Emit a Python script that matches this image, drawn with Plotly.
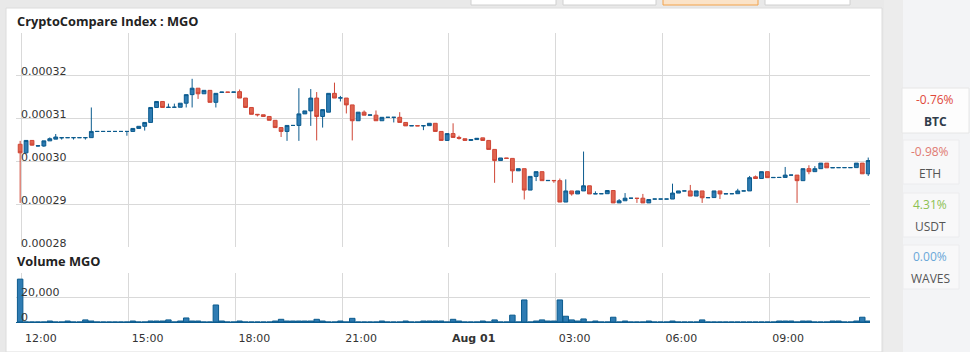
import pandas as pd
import numpy as np
import plotly.graph_objects as go

# ---------------- data (prices in units of 1e-5) ----------------
PRICE_UNIT = 1e-5
start_time = "2018-07-31 11:57"
n_candles = 144

open_ = [
    30.40, 30.20, 30.49, 30.36, 30.36, 30.48, 30.52, 30.55, 30.555, 30.555, 30.555, 30.555,
    30.555, 30.70, 30.70, 30.70, 30.70, 30.70, 30.70, 30.70, 30.77, 30.82, 30.91, 31.26,
    31.40, 31.26, 31.265, 31.265, 31.36, 31.56, 31.71, 31.58, 31.66, 31.38, 31.61, 31.62,
    31.615, 31.63, 31.48, 31.26, 31.10, 31.09, 31.05, 30.96, 30.79, 30.70, 30.84, 30.84,
    31.11, 31.18, 31.48, 31.05, 31.15, 31.59, 31.48, 31.48, 31.32, 30.95, 31.15, 31.08,
    31.08, 30.95, 31.03, 31.03, 31.03, 30.91, 30.83, 30.835, 30.83, 30.835, 30.89, 30.70,
    30.49, 30.65, 30.56, 30.53, 30.49, 30.51, 30.55, 30.49, 30.28, 30.02, 30.08, 30.07,
    29.78, 29.83, 29.33, 29.65, 29.76, 29.55, 29.555, 29.55, 29.05, 29.31, 29.24, 29.31,
    29.43, 29.24, 29.245, 29.245, 29.32, 29.03, 29.08, 29.14, 29.14, 29.14, 29.03, 29.12,
    29.12, 29.12, 29.12, 29.26, 29.31, 29.31, 29.19, 29.31, 29.15, 29.155, 29.31, 29.24,
    29.245, 29.245, 29.31, 29.31, 29.64, 29.60, 29.76, 29.62, 29.625, 29.625, 29.68, 29.68,
    29.55, 29.83, 29.76, 29.83, 29.96, 29.85, 29.855, 29.855, 29.855, 29.855, 29.96, 29.71,
]
close = [
    30.20, 30.49, 30.38, 30.365, 30.48, 30.53, 30.57, 30.555, 30.555, 30.555, 30.555, 30.555,
    30.70, 30.70, 30.70, 30.70, 30.70, 30.70, 30.70, 30.77, 30.82, 30.91, 31.26, 31.40,
    31.26, 31.265, 31.265, 31.36, 31.56, 31.71, 31.58, 31.66, 31.38, 31.59, 31.62, 31.615,
    31.62, 31.48, 31.26, 31.10, 31.09, 31.05, 30.96, 30.79, 30.70, 30.84, 30.84, 31.11,
    31.18, 31.48, 31.05, 31.21, 31.59, 31.48, 31.485, 31.32, 30.95, 31.15, 31.08, 31.085,
    30.95, 31.03, 31.03, 31.03, 30.91, 30.83, 30.835, 30.83, 30.835, 30.89, 30.70, 30.49,
    30.65, 30.56, 30.54, 30.49, 30.51, 30.54, 30.49, 30.28, 30.02, 30.08, 30.07, 29.78,
    29.83, 29.33, 29.65, 29.76, 29.55, 29.555, 29.55, 29.05, 29.31, 29.24, 29.31, 29.43,
    29.24, 29.245, 29.245, 29.32, 29.03, 29.08, 29.14, 29.14, 29.135, 29.03, 29.11, 29.12,
    29.12, 29.12, 29.26, 29.31, 29.31, 29.19, 29.31, 29.15, 29.155, 29.31, 29.24, 29.245,
    29.245, 29.31, 29.31, 29.62, 29.60, 29.76, 29.62, 29.625, 29.625, 29.68, 29.68, 29.55,
    29.83, 29.76, 29.83, 29.96, 29.85, 29.855, 29.855, 29.855, 29.855, 29.96, 29.71, 30.02,
]
high = [
    30.48, 30.50, 30.49, 30.37, 30.48, 30.56, 30.64, 30.555, 30.555, 30.555, 30.555, 30.555,
    31.26, 30.70, 30.70, 30.70, 30.70, 30.70, 30.70, 30.77, 30.82, 30.91, 31.26, 31.40,
    31.40, 31.35, 31.35, 31.36, 31.56, 31.93, 31.71, 31.66, 31.66, 31.59, 31.62, 31.62,
    31.62, 31.68, 31.48, 31.26, 31.10, 31.09, 31.05, 30.96, 30.79, 30.84, 30.84, 31.71,
    31.18, 31.69, 31.62, 31.21, 31.59, 31.84, 31.53, 31.48, 31.32, 31.15, 31.19, 31.085,
    31.19, 31.03, 31.03, 31.03, 31.15, 30.91, 30.835, 30.835, 30.835, 30.89, 30.89, 30.70,
    30.65, 30.89, 30.60, 30.53, 30.51, 30.54, 30.55, 30.49, 30.28, 30.08, 30.08, 30.07,
    29.83, 29.83, 29.65, 29.76, 29.76, 29.555, 29.555, 29.60, 29.58, 29.31, 29.31, 30.23,
    29.43, 29.30, 29.245, 29.32, 29.32, 29.12, 29.26, 29.14, 29.14, 29.24, 29.11, 29.12,
    29.12, 29.12, 29.48, 29.31, 29.31, 29.45, 29.31, 29.31, 29.155, 29.31, 29.31, 29.245,
    29.245, 29.36, 29.31, 29.66, 29.67, 29.76, 29.76, 29.625, 29.625, 29.87, 29.68, 29.68,
    29.83, 29.91, 29.89, 29.96, 29.96, 29.855, 29.855, 29.855, 29.855, 29.96, 29.96, 30.09,
]
low = [
    29.03, 30.18, 30.37, 30.35, 30.34, 30.48, 30.52, 30.51, 30.555, 30.51, 30.555, 30.51,
    30.555, 30.70, 30.70, 30.70, 30.70, 30.70, 30.60, 30.70, 30.77, 30.72, 30.91, 31.26,
    31.26, 31.26, 31.265, 31.265, 31.26, 31.26, 31.46, 31.58, 31.38, 31.26, 31.61, 31.615,
    31.615, 31.48, 31.26, 31.10, 31.05, 31.05, 30.96, 30.79, 30.57, 30.48, 30.84, 30.48,
    31.11, 30.83, 30.49, 30.79, 31.15, 31.48, 31.40, 31.12, 30.49, 30.95, 31.08, 31.08,
    30.95, 30.95, 31.03, 30.91, 30.91, 30.83, 30.83, 30.83, 30.73, 30.835, 30.70, 30.49,
    30.49, 30.56, 30.51, 30.49, 30.49, 30.51, 30.49, 30.28, 29.50, 30.02, 30.07, 29.50,
    29.78, 29.11, 29.33, 29.54, 29.55, 29.55, 29.50, 29.05, 29.05, 29.20, 29.24, 29.31,
    29.24, 29.24, 29.245, 29.245, 29.03, 29.03, 29.08, 29.14, 29.03, 29.03, 29.03, 29.12,
    29.12, 29.12, 29.12, 29.26, 29.31, 29.19, 29.19, 29.03, 29.15, 29.155, 29.12, 29.24,
    29.245, 29.245, 29.31, 29.31, 29.60, 29.60, 29.62, 29.62, 29.625, 29.625, 29.68, 29.03,
    29.55, 29.70, 29.76, 29.83, 29.85, 29.85, 29.855, 29.855, 29.855, 29.855, 29.71, 29.66,
]
volume = [
    35000, 0, 0, 0, 0, 800, 0, 0, 800, 0, 0, 1700,
    800, 0, 0, 0, 0, 0, 0, 800, 0, 0, 800, 800,
    800, 1700, 0, 800, 3300, 800, 800, 0, 0, 13900, 800, 0,
    0, 800, 0, 0, 0, 0, 0, 800, 2200, 800, 800, 800,
    800, 800, 2200, 800, 0, 0, 800, 0, 3000, 0, 0, 0,
    0, 800, 0, 0, 0, 800, 0, 0, 800, 800, 800, 800,
    0, 2200, 800, 0, 0, 0, 800, 0, 1700, 0, 0, 5600,
    0, 18000, 0, 800, 1700, 800, 800, 18000, 4700, 1700, 800, 2500,
    0, 800, 0, 0, 3900, 0, 800, 0, 0, 0, 800, 0,
    0, 0, 800, 0, 0, 0, 0, 1700, 0, 0, 0, 0,
    0, 0, 0, 0, 0, 0, 0, 0, 800, 800, 800, 0,
    800, 800, 0, 0, 0, 800, 800, 0, 0, 800, 3900, 800,
]

x_tickvals = ["2018-07-31 12:00", "2018-07-31 15:00", "2018-07-31 18:00", "2018-07-31 21:00",
              "2018-08-01 00:00", "2018-08-01 03:00", "2018-08-01 06:00", "2018-08-01 09:00"]
x_ticktext = ["12:00", "15:00", "18:00", "21:00", "<b>Aug 01</b>", "03:00", "06:00", "09:00"]
price_tickvals = [28, 29, 30, 31, 32, 33]
price_ticktext = ["0.00028", "0.00029", "0.00030", "0.00031", "0.00032", ""]
vol_tickvals = [0, 20000, 40000]
vol_ticktext = ["0", "20,000", ""]

side_pct = ["-0.76%", "-0.98%", "4.31%", "0.00%"]
side_sym = ["BTC", "ETH", "USDT", "WAVES"]

# ---------------- figure ----------------
W, H = 970, 352
times = pd.date_range(start_time, periods=n_candles, freq="10min")

def px(x):
    return x / W

def py(y):
    return 1 - y / H

UP_FILL, UP_LINE = "#2f7cb3", "#0b5b8e"
DN_FILL, DN_LINE = "#e0644f", "#cf4636"

fig = go.Figure()
fig.add_trace(go.Candlestick(
    x=times,
    open=np.array(open_) * PRICE_UNIT, high=np.array(high) * PRICE_UNIT,
    low=np.array(low) * PRICE_UNIT, close=np.array(close) * PRICE_UNIT,
    increasing=dict(fillcolor=UP_FILL, line=dict(color=UP_LINE, width=1)),
    decreasing=dict(fillcolor=DN_FILL, line=dict(color=DN_LINE, width=1)),
    whiskerwidth=0, xaxis="x", yaxis="y", showlegend=False, hoverinfo="skip",
))
fig.add_trace(go.Bar(
    x=times, y=volume, xaxis="x", yaxis="y2",
    marker=dict(color=UP_FILL, line=dict(color=UP_LINE, width=1)),
    showlegend=False, hoverinfo="skip",
))

tick_font = dict(family="DejaVu Sans", size=11, color="#333333")
GRID = "#d9d9d9"

fig.update_layout(
    width=W, height=H,
    margin=dict(l=0, r=0, t=0, b=0),
    paper_bgcolor="#e9e9e9",
    plot_bgcolor="rgba(0,0,0,0)",
    boxgap=0.08,
    bargap=0.08,
    xaxis=dict(
        domain=[px(16), px(870)], anchor="y2", type="date",
        range=["2018-07-31 11:50", "2018-08-01 11:50"],
        rangeslider=dict(visible=False),
        tickvals=x_tickvals, ticktext=x_ticktext, ticks="",
        ticklabelposition="outside right", ticklabelstandoff=8, ticklabelshift=3,
        tickfont=tick_font, showgrid=True, gridcolor=GRID, gridwidth=1,
        showline=False, zeroline=False,
    ),
    yaxis=dict(
        domain=[py(247), py(33)], anchor="x",
        range=[28 * PRICE_UNIT, 33 * PRICE_UNIT],
        tickvals=[v * PRICE_UNIT for v in price_tickvals], showticklabels=False,
        ticks="", showgrid=True, gridcolor=GRID, gridwidth=1, zeroline=False, showline=False,
    ),
    yaxis2=dict(
        domain=[py(322), py(273)], anchor="x",
        range=[0, 40000],
        tickvals=vol_tickvals, showticklabels=False, ticks="",
        showgrid=True, gridcolor=GRID, gridwidth=1,
        zeroline=True, zerolinecolor=UP_LINE, zerolinewidth=1, showline=False,
    ),
)

shapes = []
# chart panel
shapes.append(dict(type="rect", xref="paper", yref="paper", x0=px(6), x1=px(882), y0=py(352), y1=py(8),
                   fillcolor="#ffffff", line=dict(color="#dcdcdc", width=1), layer="below"))
# right side strips
shapes.append(dict(type="rect", xref="paper", yref="paper", x0=px(884), x1=px(903), y0=0, y1=1,
                   fillcolor="#ececec", line=dict(width=0), layer="below"))
shapes.append(dict(type="rect", xref="paper", yref="paper", x0=px(903), x1=1, y0=0, y1=1,
                   fillcolor="#f3f4f6", line=dict(width=0), layer="below"))
# top buttons (cut off)
for x0, x1, fc, lc in [(471, 556, "#ffffff", "#d0d0d0"), (563, 656, "#ffffff", "#d0d0d0"),
                       (663, 758, "#fbe3c8", "#f2a24a"), (765, 850, "#ffffff", "#d0d0d0")]:
    shapes.append(dict(type="rect", xref="paper", yref="paper", x0=px(x0), x1=px(x1), y0=py(5), y1=py(-5),
                       fillcolor=fc, line=dict(color=lc, width=1), layer="below"))
# side cards
card_rows = [(88, 133), (140, 184), (193, 237), (245, 289)]
for i, (y0, y1) in enumerate(card_rows):
    if i == 0:
        shapes.append(dict(type="rect", xref="paper", yref="paper", x0=px(902), x1=px(969), y0=py(y1), y1=py(y0),
                           fillcolor="#fdfdfd", line=dict(color="#e6e6e6", width=1), layer="below"))
    else:
        shapes.append(dict(type="rect", xref="paper", yref="paper", x0=px(903), x1=px(959), y0=py(y1), y1=py(y0),
                           fillcolor="#f8f8f9", line=dict(color="#ececee", width=1), layer="below"))
fig.update_layout(shapes=shapes)

ann = []
# y-axis labels drawn inside the plot, left aligned just above each grid line
for v, t in zip(price_tickvals, price_ticktext):
    if t:
        ann.append(dict(text=t, xref="paper", yref="y", x=px(19), y=v * PRICE_UNIT,
                        xanchor="left", yanchor="middle", yshift=4, showarrow=False, font=tick_font))
for v, t in zip(vol_tickvals, vol_ticktext):
    if t:
        ann.append(dict(text=t, xref="paper", yref="y2", x=px(19), y=v,
                        xanchor="left", yanchor="middle", yshift=5, showarrow=False, font=tick_font))

ann.append(dict(text="<b>CryptoCompare Index : MGO</b>", xref="paper", yref="paper", x=px(15), y=py(21),
                xanchor="left", yanchor="middle", showarrow=False,
                font=dict(family="Open Sans", size=12.8, color="#222222")))
ann.append(dict(text="<b>Volume MGO</b>", xref="paper", yref="paper", x=px(15), y=py(261),
                xanchor="left", yanchor="middle", showarrow=False,
                font=dict(family="Open Sans", size=12.8, color="#222222")))
pct_colors = ["#e0483a", "#e07a72", "#8cc152", "#6aa7d8"]
sym_styles = [("<b>%s</b>", "#2f3b4a"), ("%s", "#555555"), ("%s", "#555555"), ("%s", "#555555")]
centers = [935, 930, 930, 930]
for i, (y0, y1) in enumerate(card_rows):
    ann.append(dict(text=side_pct[i], xref="paper", yref="paper", x=px(centers[i]), y=py(y0 + 11),
                    xanchor="center", yanchor="middle", showarrow=False,
                    font=dict(family="Open Sans", size=12, color=pct_colors[i])))
    fmt, col = sym_styles[i]
    ann.append(dict(text=fmt % side_sym[i], xref="paper", yref="paper", x=px(centers[i]), y=py(y0 + 33),
                    xanchor="center", yanchor="middle", showarrow=False,
                    font=dict(family="Open Sans", size=12, color=col)))
fig.update_layout(annotations=ann)

fig.write_html("out.html")
